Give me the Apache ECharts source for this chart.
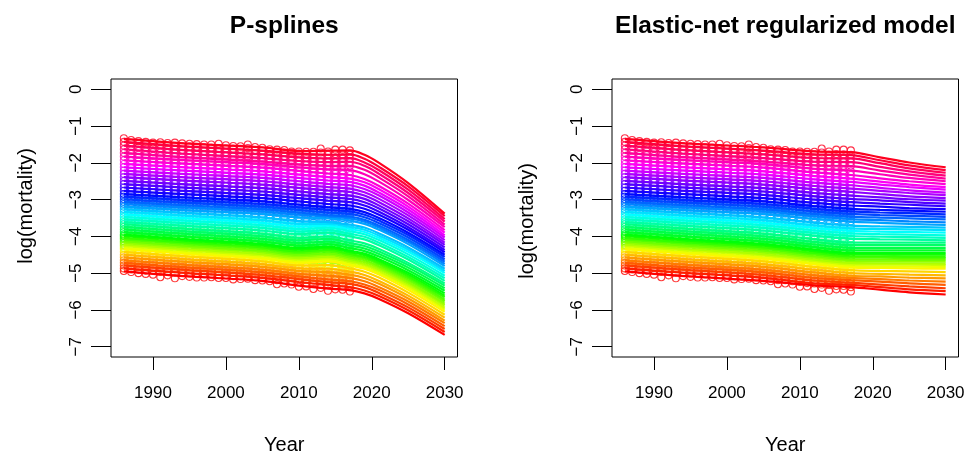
<!DOCTYPE html>
<html><head><meta charset="utf-8">
<script src="https://cdn.jsdelivr.net/npm/echarts@6/dist/echarts.min.js"></script>
<style>html,body{margin:0;padding:0;background:#fff}#c{width:970px;height:453px}</style>
</head><body><div id="c"></div>
<script>
const ages = [50,51,52,53,54,55,56,57,58,59,60,61,62,63,64,65,66,67,68,69,70,71,72,73,74,75,76,77,78,79,80,81,82,83,84,85,86,87,88,89,90,91,92,93,94,95,96,97,98,99];
const obsYears = [1986,1987,1988,1989,1990,1991,1992,1993,1994,1995,1996,1997,1998,1999,2000,2001,2002,2003,2004,2005,2006,2007,2008,2009,2010,2011,2012,2013,2014,2015,2016,2017];
const xTicks = [1990,2000,2010,2020,2030];
const yTicks = [-7,-6,-5,-4,-3,-2,-1,0];
const titles = ['P-splines','Elastic-net regularized model'];
const xTitle = 'Year';
const yTitle = 'log(mortality)';

// observed log-mortality, one row per age (youngest first), one value per year 1986..2017
const observed = [
[-4.94,-4.97,-5.00,-5.02,-5.04,-5.11,-5.06,-5.14,-5.08,-5.10,-5.12,-5.12,-5.11,-5.13,-5.13,-5.17,-5.16,-5.15,-5.19,-5.20,-5.22,-5.30,-5.28,-5.31,-5.37,-5.36,-5.43,-5.40,-5.48,-5.44,-5.45,-5.50],
[-4.87,-4.90,-4.91,-4.93,-4.93,-4.97,-4.96,-4.99,-4.98,-5.01,-5.01,-5.03,-5.03,-5.05,-5.05,-5.08,-5.08,-5.10,-5.11,-5.14,-5.15,-5.19,-5.19,-5.22,-5.24,-5.27,-5.28,-5.31,-5.32,-5.35,-5.35,-5.38],
[-4.79,-4.81,-4.83,-4.84,-4.85,-4.88,-4.88,-4.89,-4.90,-4.92,-4.93,-4.94,-4.95,-4.96,-4.97,-4.99,-5.00,-5.01,-5.03,-5.05,-5.07,-5.10,-5.11,-5.13,-5.16,-5.18,-5.20,-5.22,-5.25,-5.26,-5.27,-5.29],
[-4.72,-4.74,-4.76,-4.77,-4.78,-4.80,-4.81,-4.82,-4.83,-4.85,-4.86,-4.87,-4.88,-4.89,-4.90,-4.92,-4.93,-4.94,-4.96,-4.98,-5.00,-5.02,-5.04,-5.06,-5.09,-5.11,-5.13,-5.15,-5.17,-5.19,-5.20,-5.22],
[-4.65,-4.67,-4.69,-4.70,-4.71,-4.73,-4.74,-4.75,-4.76,-4.78,-4.79,-4.80,-4.81,-4.82,-4.83,-4.85,-4.86,-4.87,-4.89,-4.91,-4.93,-4.95,-4.97,-4.99,-5.02,-5.04,-5.06,-5.08,-5.10,-5.12,-5.13,-5.15],
[-4.57,-4.59,-4.61,-4.62,-4.63,-4.65,-4.66,-4.67,-4.68,-4.70,-4.71,-4.72,-4.73,-4.74,-4.75,-4.77,-4.78,-4.79,-4.81,-4.83,-4.85,-4.87,-4.89,-4.91,-4.94,-4.96,-4.98,-5.00,-5.02,-5.04,-5.05,-5.07],
[-4.50,-4.52,-4.54,-4.55,-4.56,-4.58,-4.59,-4.60,-4.61,-4.63,-4.64,-4.65,-4.66,-4.67,-4.68,-4.70,-4.71,-4.72,-4.74,-4.76,-4.78,-4.80,-4.82,-4.84,-4.87,-4.89,-4.91,-4.93,-4.95,-4.97,-4.98,-5.00],
[-4.42,-4.44,-4.46,-4.47,-4.48,-4.50,-4.51,-4.52,-4.53,-4.55,-4.56,-4.57,-4.58,-4.59,-4.60,-4.62,-4.63,-4.64,-4.66,-4.68,-4.70,-4.72,-4.74,-4.76,-4.79,-4.81,-4.83,-4.85,-4.87,-4.89,-4.90,-4.92],
[-4.35,-4.37,-4.39,-4.40,-4.41,-4.43,-4.44,-4.45,-4.46,-4.48,-4.49,-4.50,-4.51,-4.52,-4.53,-4.55,-4.56,-4.57,-4.59,-4.61,-4.63,-4.65,-4.67,-4.69,-4.72,-4.74,-4.76,-4.78,-4.80,-4.82,-4.83,-4.85],
[-4.31,-4.33,-4.35,-4.36,-4.37,-4.39,-4.40,-4.41,-4.42,-4.44,-4.45,-4.46,-4.47,-4.48,-4.49,-4.51,-4.52,-4.53,-4.55,-4.57,-4.59,-4.61,-4.63,-4.65,-4.68,-4.70,-4.72,-4.74,-4.76,-4.78,-4.79,-4.81],
[-4.26,-4.28,-4.30,-4.31,-4.32,-4.34,-4.35,-4.36,-4.37,-4.39,-4.40,-4.41,-4.42,-4.43,-4.44,-4.46,-4.47,-4.48,-4.50,-4.52,-4.54,-4.56,-4.58,-4.60,-4.63,-4.65,-4.67,-4.69,-4.71,-4.73,-4.74,-4.76],
[-4.22,-4.24,-4.26,-4.27,-4.28,-4.30,-4.31,-4.32,-4.33,-4.35,-4.36,-4.37,-4.38,-4.39,-4.40,-4.42,-4.43,-4.44,-4.46,-4.48,-4.50,-4.52,-4.54,-4.56,-4.59,-4.61,-4.63,-4.65,-4.67,-4.69,-4.70,-4.72],
[-4.17,-4.19,-4.21,-4.22,-4.23,-4.25,-4.26,-4.27,-4.28,-4.30,-4.31,-4.32,-4.33,-4.34,-4.35,-4.37,-4.38,-4.39,-4.41,-4.43,-4.45,-4.47,-4.49,-4.51,-4.54,-4.56,-4.58,-4.60,-4.62,-4.64,-4.65,-4.67],
[-4.13,-4.15,-4.17,-4.18,-4.19,-4.21,-4.22,-4.23,-4.24,-4.26,-4.27,-4.28,-4.29,-4.30,-4.31,-4.33,-4.34,-4.35,-4.37,-4.39,-4.41,-4.43,-4.45,-4.47,-4.50,-4.52,-4.54,-4.56,-4.58,-4.60,-4.61,-4.63],
[-4.08,-4.10,-4.12,-4.13,-4.14,-4.16,-4.17,-4.18,-4.19,-4.21,-4.22,-4.23,-4.24,-4.25,-4.26,-4.28,-4.29,-4.30,-4.32,-4.34,-4.36,-4.38,-4.40,-4.42,-4.45,-4.47,-4.49,-4.51,-4.53,-4.55,-4.56,-4.58],
[-4.04,-4.06,-4.08,-4.09,-4.10,-4.12,-4.13,-4.14,-4.15,-4.17,-4.18,-4.19,-4.20,-4.21,-4.22,-4.24,-4.25,-4.26,-4.28,-4.30,-4.32,-4.34,-4.36,-4.38,-4.41,-4.43,-4.45,-4.47,-4.49,-4.51,-4.52,-4.54],
[-3.99,-4.01,-4.03,-4.04,-4.05,-4.07,-4.08,-4.09,-4.10,-4.12,-4.13,-4.14,-4.15,-4.16,-4.17,-4.19,-4.20,-4.21,-4.23,-4.25,-4.27,-4.29,-4.31,-4.33,-4.36,-4.38,-4.40,-4.42,-4.44,-4.46,-4.47,-4.49],
[-3.95,-3.97,-3.99,-4.00,-4.01,-4.03,-4.04,-4.05,-4.06,-4.08,-4.09,-4.10,-4.11,-4.12,-4.13,-4.15,-4.16,-4.17,-4.19,-4.21,-4.23,-4.25,-4.27,-4.29,-4.32,-4.34,-4.36,-4.38,-4.40,-4.42,-4.43,-4.45],
[-3.88,-3.90,-3.92,-3.93,-3.94,-3.96,-3.97,-3.98,-3.99,-4.01,-4.02,-4.03,-4.04,-4.05,-4.06,-4.08,-4.09,-4.10,-4.12,-4.14,-4.16,-4.18,-4.20,-4.22,-4.25,-4.27,-4.29,-4.31,-4.33,-4.35,-4.36,-4.38],
[-3.81,-3.83,-3.85,-3.86,-3.87,-3.89,-3.90,-3.91,-3.92,-3.94,-3.95,-3.96,-3.97,-3.98,-3.99,-4.01,-4.02,-4.03,-4.05,-4.07,-4.09,-4.11,-4.13,-4.15,-4.18,-4.20,-4.22,-4.24,-4.26,-4.28,-4.29,-4.31],
[-3.74,-3.76,-3.78,-3.79,-3.80,-3.82,-3.83,-3.84,-3.85,-3.87,-3.88,-3.89,-3.90,-3.91,-3.92,-3.94,-3.95,-3.96,-3.98,-4.00,-4.02,-4.04,-4.06,-4.08,-4.11,-4.13,-4.15,-4.17,-4.19,-4.21,-4.22,-4.24],
[-3.67,-3.69,-3.71,-3.72,-3.73,-3.75,-3.76,-3.77,-3.78,-3.80,-3.81,-3.82,-3.83,-3.84,-3.85,-3.87,-3.88,-3.89,-3.91,-3.93,-3.95,-3.97,-3.99,-4.01,-4.04,-4.06,-4.08,-4.10,-4.12,-4.14,-4.15,-4.17],
[-3.61,-3.63,-3.64,-3.65,-3.66,-3.68,-3.69,-3.70,-3.71,-3.72,-3.73,-3.74,-3.75,-3.76,-3.77,-3.79,-3.79,-3.80,-3.82,-3.84,-3.86,-3.88,-3.90,-3.92,-3.94,-3.96,-3.98,-4.00,-4.02,-4.03,-4.04,-4.06],
[-3.54,-3.56,-3.57,-3.58,-3.59,-3.61,-3.62,-3.63,-3.64,-3.65,-3.66,-3.67,-3.68,-3.69,-3.70,-3.72,-3.72,-3.73,-3.75,-3.77,-3.79,-3.81,-3.83,-3.85,-3.87,-3.89,-3.91,-3.93,-3.95,-3.96,-3.97,-3.99],
[-3.47,-3.49,-3.50,-3.51,-3.52,-3.54,-3.55,-3.56,-3.57,-3.58,-3.59,-3.60,-3.61,-3.62,-3.63,-3.65,-3.65,-3.66,-3.68,-3.70,-3.72,-3.74,-3.76,-3.78,-3.80,-3.82,-3.84,-3.86,-3.88,-3.89,-3.90,-3.92],
[-3.40,-3.42,-3.43,-3.44,-3.45,-3.47,-3.48,-3.49,-3.50,-3.51,-3.52,-3.53,-3.54,-3.55,-3.56,-3.58,-3.58,-3.59,-3.61,-3.63,-3.65,-3.67,-3.69,-3.71,-3.73,-3.75,-3.77,-3.79,-3.81,-3.82,-3.83,-3.85],
[-3.33,-3.35,-3.36,-3.37,-3.38,-3.40,-3.41,-3.42,-3.43,-3.44,-3.45,-3.46,-3.47,-3.48,-3.49,-3.51,-3.51,-3.52,-3.54,-3.56,-3.58,-3.60,-3.62,-3.64,-3.66,-3.68,-3.70,-3.72,-3.74,-3.75,-3.76,-3.78],
[-3.26,-3.28,-3.29,-3.30,-3.31,-3.33,-3.34,-3.35,-3.36,-3.37,-3.38,-3.39,-3.40,-3.41,-3.42,-3.44,-3.44,-3.45,-3.47,-3.49,-3.51,-3.53,-3.55,-3.57,-3.59,-3.61,-3.63,-3.65,-3.67,-3.68,-3.69,-3.71],
[-3.19,-3.21,-3.22,-3.23,-3.24,-3.25,-3.26,-3.27,-3.28,-3.29,-3.30,-3.31,-3.31,-3.32,-3.33,-3.35,-3.35,-3.36,-3.38,-3.39,-3.41,-3.43,-3.45,-3.46,-3.48,-3.50,-3.52,-3.53,-3.55,-3.56,-3.57,-3.59],
[-3.12,-3.14,-3.15,-3.16,-3.17,-3.18,-3.19,-3.20,-3.21,-3.22,-3.23,-3.24,-3.24,-3.25,-3.26,-3.28,-3.28,-3.29,-3.31,-3.32,-3.34,-3.36,-3.38,-3.39,-3.41,-3.43,-3.45,-3.46,-3.48,-3.49,-3.50,-3.52],
[-3.06,-3.08,-3.09,-3.10,-3.11,-3.12,-3.13,-3.14,-3.15,-3.16,-3.17,-3.18,-3.18,-3.19,-3.20,-3.22,-3.22,-3.23,-3.25,-3.26,-3.28,-3.30,-3.32,-3.33,-3.35,-3.37,-3.39,-3.40,-3.42,-3.43,-3.44,-3.46],
[-2.99,-3.01,-3.02,-3.03,-3.04,-3.05,-3.06,-3.07,-3.08,-3.09,-3.10,-3.11,-3.11,-3.12,-3.13,-3.15,-3.15,-3.16,-3.18,-3.19,-3.21,-3.23,-3.25,-3.26,-3.28,-3.30,-3.32,-3.33,-3.35,-3.36,-3.37,-3.39],
[-2.92,-2.94,-2.95,-2.96,-2.97,-2.98,-2.99,-3.00,-3.01,-3.02,-3.03,-3.04,-3.04,-3.05,-3.06,-3.08,-3.08,-3.09,-3.11,-3.12,-3.14,-3.16,-3.18,-3.19,-3.21,-3.23,-3.25,-3.26,-3.28,-3.29,-3.30,-3.32],
[-2.85,-2.87,-2.88,-2.89,-2.90,-2.91,-2.92,-2.93,-2.94,-2.95,-2.96,-2.97,-2.97,-2.98,-2.99,-3.01,-3.01,-3.02,-3.04,-3.05,-3.07,-3.09,-3.11,-3.12,-3.14,-3.16,-3.18,-3.19,-3.21,-3.22,-3.23,-3.25],
[-2.76,-2.78,-2.79,-2.80,-2.81,-2.82,-2.83,-2.84,-2.85,-2.86,-2.87,-2.88,-2.88,-2.89,-2.90,-2.92,-2.92,-2.93,-2.95,-2.96,-2.98,-3.00,-3.02,-3.03,-3.05,-3.07,-3.09,-3.10,-3.12,-3.13,-3.14,-3.16],
[-2.67,-2.69,-2.70,-2.71,-2.72,-2.73,-2.74,-2.75,-2.76,-2.77,-2.78,-2.79,-2.79,-2.80,-2.81,-2.83,-2.83,-2.84,-2.86,-2.87,-2.89,-2.91,-2.93,-2.94,-2.96,-2.98,-3.00,-3.01,-3.03,-3.04,-3.05,-3.07],
[-2.58,-2.60,-2.61,-2.62,-2.63,-2.64,-2.65,-2.66,-2.67,-2.68,-2.69,-2.70,-2.70,-2.71,-2.72,-2.74,-2.74,-2.75,-2.77,-2.78,-2.80,-2.82,-2.84,-2.85,-2.87,-2.89,-2.91,-2.92,-2.94,-2.95,-2.96,-2.98],
[-2.49,-2.51,-2.52,-2.53,-2.54,-2.55,-2.56,-2.57,-2.58,-2.59,-2.60,-2.61,-2.61,-2.62,-2.63,-2.65,-2.65,-2.66,-2.68,-2.69,-2.71,-2.73,-2.75,-2.76,-2.78,-2.80,-2.82,-2.83,-2.85,-2.86,-2.87,-2.89],
[-2.39,-2.41,-2.42,-2.43,-2.44,-2.45,-2.46,-2.47,-2.48,-2.49,-2.50,-2.51,-2.51,-2.52,-2.53,-2.55,-2.55,-2.56,-2.58,-2.59,-2.61,-2.63,-2.65,-2.66,-2.68,-2.70,-2.72,-2.73,-2.75,-2.76,-2.77,-2.79],
[-2.30,-2.32,-2.33,-2.34,-2.35,-2.36,-2.37,-2.38,-2.39,-2.40,-2.41,-2.42,-2.42,-2.43,-2.44,-2.46,-2.46,-2.47,-2.49,-2.50,-2.52,-2.54,-2.56,-2.57,-2.59,-2.61,-2.63,-2.64,-2.66,-2.67,-2.68,-2.70],
[-2.21,-2.23,-2.24,-2.25,-2.26,-2.27,-2.28,-2.29,-2.30,-2.31,-2.32,-2.33,-2.33,-2.34,-2.35,-2.37,-2.37,-2.38,-2.40,-2.41,-2.43,-2.45,-2.47,-2.48,-2.50,-2.52,-2.54,-2.55,-2.57,-2.58,-2.59,-2.61],
[-2.12,-2.14,-2.15,-2.16,-2.17,-2.18,-2.19,-2.20,-2.21,-2.22,-2.23,-2.24,-2.24,-2.25,-2.26,-2.28,-2.28,-2.29,-2.31,-2.32,-2.34,-2.36,-2.38,-2.39,-2.41,-2.43,-2.45,-2.46,-2.48,-2.49,-2.50,-2.52],
[-2.03,-2.05,-2.06,-2.07,-2.08,-2.09,-2.10,-2.11,-2.12,-2.13,-2.14,-2.15,-2.15,-2.16,-2.17,-2.19,-2.19,-2.20,-2.22,-2.23,-2.25,-2.27,-2.29,-2.30,-2.32,-2.34,-2.36,-2.37,-2.39,-2.40,-2.41,-2.43],
[-1.93,-1.95,-1.96,-1.97,-1.98,-1.99,-2.00,-2.01,-2.02,-2.03,-2.04,-2.05,-2.05,-2.06,-2.07,-2.09,-2.09,-2.10,-2.12,-2.13,-2.15,-2.17,-2.19,-2.20,-2.22,-2.24,-2.26,-2.27,-2.29,-2.30,-2.31,-2.33],
[-1.83,-1.85,-1.86,-1.87,-1.88,-1.89,-1.90,-1.91,-1.92,-1.93,-1.94,-1.95,-1.95,-1.96,-1.97,-1.99,-1.99,-2.00,-2.02,-2.03,-2.05,-2.07,-2.09,-2.10,-2.12,-2.14,-2.16,-2.17,-2.19,-2.20,-2.21,-2.23],
[-1.73,-1.76,-1.78,-1.79,-1.81,-1.82,-1.83,-1.84,-1.85,-1.86,-1.87,-1.88,-1.89,-1.90,-1.91,-1.92,-1.92,-1.93,-1.95,-1.97,-1.99,-2.00,-2.02,-2.03,-2.05,-2.06,-2.07,-2.07,-2.08,-2.08,-2.08,-2.08],
[-1.63,-1.66,-1.68,-1.69,-1.71,-1.72,-1.73,-1.74,-1.75,-1.76,-1.77,-1.78,-1.79,-1.80,-1.81,-1.82,-1.82,-1.83,-1.85,-1.87,-1.89,-1.90,-1.92,-1.93,-1.95,-1.96,-1.97,-1.97,-1.98,-1.98,-1.98,-1.98],
[-1.53,-1.56,-1.58,-1.59,-1.61,-1.62,-1.63,-1.64,-1.65,-1.66,-1.67,-1.68,-1.69,-1.70,-1.71,-1.72,-1.72,-1.73,-1.75,-1.77,-1.79,-1.80,-1.82,-1.83,-1.85,-1.86,-1.87,-1.87,-1.88,-1.88,-1.88,-1.88],
[-1.43,-1.46,-1.48,-1.49,-1.51,-1.52,-1.53,-1.54,-1.55,-1.56,-1.57,-1.58,-1.59,-1.60,-1.61,-1.62,-1.62,-1.60,-1.65,-1.67,-1.69,-1.70,-1.72,-1.73,-1.75,-1.76,-1.77,-1.72,-1.78,-1.76,-1.77,-1.78],
[-1.33,-1.38,-1.41,-1.43,-1.45,-1.44,-1.46,-1.45,-1.47,-1.48,-1.49,-1.50,-1.50,-1.48,-1.52,-1.54,-1.55,-1.50,-1.57,-1.59,-1.63,-1.64,-1.65,-1.69,-1.69,-1.70,-1.70,-1.61,-1.69,-1.64,-1.64,-1.66]
];

// P-splines fitted / forecast curves, read at these years
const psYears = [1986,1995,2005,2010,2014,2017,2019,2021,2025,2030];
const psFitted = [
[-4.95,-5.09,-5.21,-5.34,-5.42,-5.46,-5.55,-5.70,-6.09,-6.68],
[-4.87,-5.00,-5.13,-5.24,-5.32,-5.38,-5.47,-5.62,-6.01,-6.60],
[-4.79,-4.92,-5.05,-5.16,-5.24,-5.29,-5.38,-5.54,-5.93,-6.52],
[-4.72,-4.85,-4.98,-5.09,-5.17,-5.22,-5.31,-5.46,-5.85,-6.44],
[-4.65,-4.78,-4.91,-5.02,-5.07,-5.13,-5.22,-5.38,-5.77,-6.36],
[-4.57,-4.70,-4.83,-4.94,-4.97,-5.04,-5.13,-5.29,-5.69,-6.29],
[-4.50,-4.63,-4.76,-4.87,-4.88,-4.96,-5.05,-5.21,-5.61,-6.21],
[-4.42,-4.55,-4.68,-4.79,-4.78,-4.87,-4.96,-5.12,-5.53,-6.13],
[-4.35,-4.48,-4.61,-4.72,-4.68,-4.79,-4.88,-5.04,-5.45,-6.05],
[-4.31,-4.44,-4.57,-4.68,-4.64,-4.75,-4.84,-5.00,-5.39,-5.99],
[-4.26,-4.39,-4.52,-4.63,-4.59,-4.70,-4.79,-4.95,-5.34,-5.94],
[-4.22,-4.35,-4.48,-4.59,-4.55,-4.66,-4.75,-4.90,-5.29,-5.88],
[-4.17,-4.30,-4.43,-4.54,-4.50,-4.61,-4.70,-4.85,-5.24,-5.83],
[-4.13,-4.26,-4.39,-4.50,-4.46,-4.57,-4.65,-4.81,-5.19,-5.77],
[-4.08,-4.21,-4.34,-4.45,-4.41,-4.52,-4.60,-4.76,-5.14,-5.72],
[-4.04,-4.17,-4.30,-4.41,-4.37,-4.48,-4.56,-4.72,-5.09,-5.66],
[-3.99,-4.12,-4.25,-4.36,-4.32,-4.43,-4.51,-4.67,-5.04,-5.61],
[-3.95,-4.08,-4.21,-4.32,-4.28,-4.39,-4.47,-4.62,-4.99,-5.55],
[-3.88,-4.01,-4.14,-4.25,-4.21,-4.32,-4.40,-4.55,-4.92,-5.48],
[-3.81,-3.94,-4.07,-4.18,-4.14,-4.25,-4.33,-4.48,-4.85,-5.41],
[-3.74,-3.87,-4.00,-4.11,-4.07,-4.18,-4.26,-4.41,-4.78,-5.34],
[-3.67,-3.80,-3.93,-4.04,-4.00,-4.11,-4.19,-4.34,-4.72,-5.28],
[-3.61,-3.72,-3.84,-3.94,-3.90,-4.00,-4.08,-4.24,-4.63,-5.21],
[-3.54,-3.65,-3.77,-3.87,-3.83,-3.93,-4.01,-4.17,-4.56,-5.14],
[-3.47,-3.58,-3.70,-3.80,-3.76,-3.86,-3.94,-4.10,-4.49,-5.07],
[-3.40,-3.51,-3.63,-3.73,-3.71,-3.80,-3.88,-4.04,-4.42,-5.00],
[-3.33,-3.44,-3.56,-3.66,-3.66,-3.74,-3.82,-3.98,-4.36,-4.94],
[-3.26,-3.37,-3.49,-3.59,-3.61,-3.68,-3.76,-3.92,-4.30,-4.88],
[-3.19,-3.29,-3.39,-3.48,-3.51,-3.57,-3.66,-3.82,-4.21,-4.81],
[-3.12,-3.22,-3.32,-3.41,-3.46,-3.51,-3.60,-3.76,-4.15,-4.75],
[-3.06,-3.16,-3.26,-3.35,-3.42,-3.46,-3.55,-3.71,-4.10,-4.69],
[-2.99,-3.09,-3.19,-3.28,-3.35,-3.39,-3.48,-3.64,-4.03,-4.63],
[-2.92,-3.02,-3.12,-3.21,-3.28,-3.32,-3.41,-3.57,-3.96,-4.56],
[-2.85,-2.95,-3.05,-3.14,-3.21,-3.25,-3.34,-3.50,-3.90,-4.50],
[-2.76,-2.86,-2.96,-3.05,-3.12,-3.16,-3.25,-3.41,-3.82,-4.43],
[-2.67,-2.77,-2.87,-2.96,-3.03,-3.07,-3.16,-3.33,-3.75,-4.37],
[-2.58,-2.68,-2.78,-2.87,-2.94,-2.98,-3.07,-3.24,-3.67,-4.30],
[-2.49,-2.59,-2.69,-2.78,-2.85,-2.89,-2.98,-3.16,-3.59,-4.23],
[-2.39,-2.49,-2.59,-2.68,-2.75,-2.79,-2.89,-3.07,-3.51,-4.17],
[-2.30,-2.40,-2.50,-2.59,-2.66,-2.70,-2.80,-2.98,-3.43,-4.10],
[-2.21,-2.31,-2.41,-2.50,-2.57,-2.61,-2.71,-2.89,-3.35,-4.03],
[-2.12,-2.22,-2.32,-2.41,-2.48,-2.52,-2.62,-2.81,-3.27,-3.97],
[-2.03,-2.13,-2.23,-2.32,-2.39,-2.43,-2.53,-2.72,-3.19,-3.90],
[-1.93,-2.03,-2.13,-2.22,-2.29,-2.33,-2.44,-2.63,-3.11,-3.83],
[-1.83,-1.93,-2.03,-2.12,-2.18,-2.20,-2.31,-2.51,-3.01,-3.75],
[-1.73,-1.86,-1.97,-2.05,-2.08,-2.08,-2.19,-2.40,-2.91,-3.68],
[-1.63,-1.76,-1.87,-1.95,-1.98,-1.97,-2.08,-2.30,-2.82,-3.60],
[-1.53,-1.66,-1.77,-1.85,-1.88,-1.87,-1.99,-2.20,-2.73,-3.53],
[-1.43,-1.56,-1.67,-1.75,-1.78,-1.77,-1.89,-2.11,-2.64,-3.45],
[-1.35,-1.48,-1.58,-1.68,-1.67,-1.66,-1.78,-2.00,-2.55,-3.38]
];

// Elastic-net fitted / forecast curves, read at these years
const enYears = [1986,1995,2005,2012,2017,2021,2025,2030];
const enFitted = [
[-4.95,-5.09,-5.21,-5.33,-5.38,-5.45,-5.52,-5.58],
[-4.87,-5.00,-5.13,-5.28,-5.32,-5.38,-5.44,-5.49],
[-4.79,-4.92,-5.05,-5.20,-5.26,-5.31,-5.36,-5.41],
[-4.72,-4.85,-4.98,-5.13,-5.19,-5.23,-5.28,-5.32],
[-4.65,-4.78,-4.91,-5.06,-5.13,-5.16,-5.20,-5.23],
[-4.57,-4.70,-4.83,-4.98,-5.07,-5.09,-5.12,-5.14],
[-4.50,-4.63,-4.76,-4.91,-5.00,-5.02,-5.04,-5.06],
[-4.42,-4.55,-4.68,-4.83,-4.92,-4.94,-4.95,-4.97],
[-4.35,-4.48,-4.61,-4.76,-4.85,-4.86,-4.87,-4.88],
[-4.31,-4.44,-4.57,-4.72,-4.81,-4.82,-4.82,-4.83],
[-4.26,-4.39,-4.52,-4.67,-4.76,-4.77,-4.77,-4.78],
[-4.22,-4.35,-4.48,-4.63,-4.72,-4.73,-4.73,-4.74],
[-4.17,-4.30,-4.43,-4.58,-4.67,-4.68,-4.68,-4.69],
[-4.13,-4.26,-4.39,-4.54,-4.63,-4.63,-4.64,-4.64],
[-4.08,-4.21,-4.34,-4.49,-4.58,-4.58,-4.59,-4.59],
[-4.04,-4.17,-4.30,-4.45,-4.54,-4.54,-4.55,-4.55],
[-3.99,-4.12,-4.25,-4.40,-4.49,-4.49,-4.50,-4.50],
[-3.95,-4.08,-4.21,-4.36,-4.45,-4.45,-4.45,-4.45],
[-3.88,-4.01,-4.14,-4.29,-4.38,-4.38,-4.38,-4.38],
[-3.81,-3.94,-4.07,-4.22,-4.31,-4.31,-4.31,-4.31],
[-3.74,-3.87,-4.00,-4.15,-4.24,-4.24,-4.24,-4.24],
[-3.67,-3.80,-3.93,-4.08,-4.17,-4.17,-4.17,-4.17],
[-3.61,-3.72,-3.84,-3.98,-4.06,-4.08,-4.09,-4.11],
[-3.54,-3.65,-3.77,-3.91,-3.99,-4.01,-4.02,-4.04],
[-3.47,-3.58,-3.70,-3.84,-3.92,-3.94,-3.95,-3.97],
[-3.40,-3.51,-3.63,-3.77,-3.85,-3.87,-3.88,-3.90],
[-3.33,-3.44,-3.56,-3.70,-3.78,-3.80,-3.81,-3.83],
[-3.26,-3.37,-3.49,-3.63,-3.71,-3.73,-3.74,-3.76],
[-3.19,-3.29,-3.39,-3.52,-3.60,-3.63,-3.66,-3.69],
[-3.12,-3.22,-3.32,-3.45,-3.53,-3.56,-3.59,-3.62],
[-3.06,-3.16,-3.26,-3.39,-3.46,-3.49,-3.51,-3.54],
[-2.99,-3.09,-3.19,-3.32,-3.39,-3.42,-3.44,-3.47],
[-2.92,-3.02,-3.12,-3.25,-3.32,-3.35,-3.37,-3.40],
[-2.85,-2.95,-3.05,-3.18,-3.25,-3.28,-3.30,-3.33],
[-2.76,-2.86,-2.96,-3.09,-3.16,-3.19,-3.23,-3.26],
[-2.67,-2.77,-2.87,-3.00,-3.07,-3.11,-3.14,-3.18],
[-2.58,-2.68,-2.78,-2.91,-2.98,-3.02,-3.07,-3.11],
[-2.49,-2.59,-2.69,-2.82,-2.89,-2.94,-2.99,-3.03],
[-2.39,-2.49,-2.59,-2.72,-2.79,-2.85,-2.91,-2.96],
[-2.30,-2.40,-2.50,-2.63,-2.70,-2.76,-2.82,-2.88],
[-2.21,-2.31,-2.41,-2.54,-2.61,-2.68,-2.75,-2.81],
[-2.12,-2.22,-2.32,-2.45,-2.52,-2.59,-2.66,-2.73],
[-2.03,-2.13,-2.23,-2.36,-2.43,-2.51,-2.59,-2.66],
[-1.93,-2.03,-2.13,-2.26,-2.33,-2.42,-2.50,-2.58],
[-1.83,-1.93,-2.03,-2.16,-2.21,-2.31,-2.41,-2.50],
[-1.73,-1.86,-1.97,-2.07,-2.09,-2.21,-2.32,-2.43],
[-1.63,-1.76,-1.87,-1.97,-1.98,-2.11,-2.23,-2.35],
[-1.53,-1.66,-1.77,-1.87,-1.88,-2.01,-2.15,-2.27],
[-1.43,-1.56,-1.67,-1.77,-1.79,-1.93,-2.07,-2.20],
[-1.35,-1.48,-1.58,-1.69,-1.71,-1.85,-1.99,-2.12]
];

// R-style rainbow palette (hsv, s=1, v=1)
function hsvHex(h) {
  const i = Math.floor(h * 6), f = h * 6 - i, q = 1 - f;
  let r, g, b;
  switch (i % 6) {
    case 0: r = 1; g = f; b = 0; break;
    case 1: r = q; g = 1; b = 0; break;
    case 2: r = 0; g = 1; b = f; break;
    case 3: r = 0; g = q; b = 1; break;
    case 4: r = f; g = 0; b = 1; break;
    default: r = 1; g = 0; b = q;
  }
  const hx = v => Math.round(v * 255).toString(16).padStart(2, '0');
  return '#' + hx(r) + hx(g) + hx(b);
}
const colors = ages.map((a, i) => hsvHex(i / ages.length));

const FONT = '"Liberation Sans", Arial, Helvetica, sans-serif';
const gridLefts = [111, 612];
const minus = v => (v < 0 ? '\u2212' + Math.abs(v) : String(v));

const grids = gridLefts.map(l => ({
  left: l, top: 79, width: 346.5, height: 278,
  show: true, borderColor: '#000', borderWidth: 1, backgroundColor: 'transparent',
  containLabel: false
}));
const xAxes = gridLefts.map((l, k) => ({
  gridIndex: k, type: 'value', position: 'bottom', min: 1984.24, max: 2031.76,
  axisLine: { show: false, onZero: false }, splitLine: { show: false },
  axisTick: { show: true, inside: false, length: 13, customValues: xTicks, lineStyle: { color: '#000', width: 1 } },
  axisLabel: { show: true, customValues: xTicks, margin: 27, color: '#000', fontSize: 17, lineHeight: 18, fontFamily: FONT, formatter: v => String(v) }
}));
const yAxes = gridLefts.map((l, k) => ({
  gridIndex: k, type: 'value', position: 'left', min: -7.28, max: 0.28,
  axisLine: { show: false, onZero: false }, splitLine: { show: false },
  axisTick: { show: true, inside: false, length: 20, customValues: yTicks, lineStyle: { color: '#000', width: 1 } },
  axisLabel: { show: true, customValues: yTicks, rotate: 90, margin: 26, color: '#000', fontSize: 17, lineHeight: 18, fontFamily: FONT, formatter: minus }
}));

const panels = [
  { years: psYears, fitted: psFitted },
  { years: enYears, fitted: enFitted }
];
const series = [];
panels.forEach((p, k) => {
  observed.forEach((row, i) => {
    series.push({
      type: 'scatter', xAxisIndex: k, yAxisIndex: k, silent: true, animation: false,
      symbol: 'circle', symbolSize: 7,
      itemStyle: { color: 'rgba(255,255,255,0)', borderColor: colors[i], borderWidth: 1.1 },
      data: obsYears.map((yr, j) => [yr, row[j]])
    });
  });
});
panels.forEach((p, k) => {
  p.fitted.forEach((row, i) => {
    series.push({
      type: 'line', xAxisIndex: k, yAxisIndex: k, silent: true, animation: false,
      symbol: 'none', showSymbol: false, smooth: 0.35,
      lineStyle: { color: colors[i], width: 2.2 },
      data: p.years.map((yr, j) => [yr, row[j]])
    });
  });
});

const centers = [284.25, 785.25];
const yTitleY = [206, 221];
const graphics = [];
centers.forEach((cx, k) => {
  graphics.push({ type: 'text', x: cx, y: 26.5, silent: true,
    style: { text: titles[k], font: 'bold 24.5px ' + FONT, fill: '#000', textAlign: 'center', textVerticalAlign: 'middle' } });
  graphics.push({ type: 'text', x: cx, y: 445, silent: true,
    style: { text: xTitle, font: '20px ' + FONT, fill: '#000', textAlign: 'center', textVerticalAlign: 'middle' } });
  graphics.push({ type: 'text', x: gridLefts[k] - 85, y: yTitleY[k], rotation: Math.PI / 2, silent: true,
    style: { text: yTitle, font: '20px ' + FONT, fill: '#000', textAlign: 'center', textVerticalAlign: 'middle' } });
});

const chart = echarts.init(document.getElementById('c'), null, { renderer: 'canvas' });
chart.setOption({
  animation: false,
  backgroundColor: '#fff',
  grid: grids, xAxis: xAxes, yAxis: yAxes,
  series: series,
  graphic: graphics
});
</script>
</body></html>
